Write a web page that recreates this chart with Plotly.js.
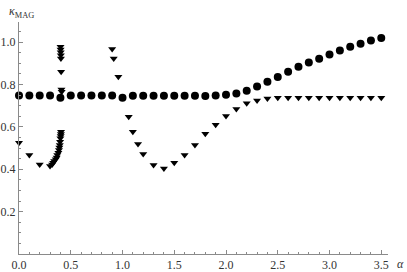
<!DOCTYPE html>
<html>
<head>
<meta charset="utf-8">
<script src="https://cdn.plot.ly/plotly-3.0.1.min.js"></script>
<style>
  html, body { margin: 0; padding: 0; background: #fff; }
  #chart { width: 407px; height: 272px; }
</style>
</head>
<body>
<div id="chart"></div>
<script>
// circles: alpha step 0.1
const alphaCircle = [0.0, 0.1, 0.2, 0.3, 0.4, 0.5, 0.6, 0.7, 0.8, 0.9,
  1.0, 1.1, 1.2, 1.3, 1.4, 1.5, 1.6, 1.7, 1.8, 1.9,
  2.0, 2.1, 2.2, 2.3, 2.4, 2.5, 2.6, 2.7, 2.8, 2.9,
  3.0, 3.1, 3.2, 3.3, 3.4, 3.5]
const kappaCircle = [0.748, 0.748, 0.748, 0.748, 0.737, 0.748, 0.748, 0.748, 0.748, 0.748,
  0.737, 0.747, 0.747, 0.747, 0.747, 0.747, 0.747, 0.747, 0.746, 0.748,
  0.752, 0.757, 0.770, 0.790, 0.813, 0.835, 0.860, 0.884, 0.904, 0.921,
  0.942, 0.961, 0.978, 0.992, 1.008, 1.020]

// triangles
const alphaTri = [0.0, 0.1, 0.2,
  0.30, 0.32, 0.33, 0.34, 0.355, 0.364, 0.37, 0.38, 0.386, 0.39, 0.394, 0.397, 0.400, 0.403, 0.405, 0.406,
  0.401, 0.402, 0.403, 0.404, 0.405, 0.407, 0.410, 0.412,
  0.90, 0.915, 0.96, 1.06, 1.10, 1.15, 1.20, 1.30, 1.40, 1.50, 1.60, 1.70, 1.80,
  1.90, 2.00, 2.10, 2.20, 2.30, 2.40, 2.5, 2.6, 2.7, 2.8, 2.9, 3.0, 3.1, 3.2, 3.3, 3.4, 3.5]
const kappaTri = [0.525, 0.467, 0.423,
  0.415, 0.423, 0.431, 0.439, 0.447, 0.456, 0.467, 0.478, 0.491, 0.503, 0.514, 0.530, 0.546, 0.557, 0.566, 0.577,
  0.978, 0.965, 0.952, 0.938, 0.923, 0.860, 0.777, 0.766,
  0.967, 0.923, 0.836, 0.648, 0.577, 0.519, 0.472, 0.420, 0.404, 0.431, 0.467, 0.514, 0.567,
  0.610, 0.651, 0.684, 0.711, 0.725, 0.734, 0.738, 0.738, 0.738, 0.738, 0.738, 0.738, 0.738, 0.738, 0.738, 0.738, 0.738]

const xTicks = [0, 0.5, 1, 1.5, 2, 2.5, 3, 3.5]
const yTicks = [0.2, 0.4, 0.6, 0.8, 1.0]

const axisColor = '#8a8a8a'
const labelFont = { family: 'Liberation Serif', size: 12, color: '#333' }

Plotly.newPlot(
  document.getElementById('chart'),
  [
    {
      x: alphaCircle, y: kappaCircle,
      mode: 'markers', type: 'scatter', cliponaxis: false,
      marker: { symbol: 'circle', size: 8, color: '#000' }
    },
    {
      x: alphaTri, y: kappaTri,
      mode: 'markers', type: 'scatter', cliponaxis: false,
      marker: { symbol: 'triangle-down', size: 7, color: '#000' }
    }
  ],
  {
    width: 407, height: 272,
    margin: { l: 19, r: 19, t: 22, b: 18 },
    paper_bgcolor: '#fff', plot_bgcolor: '#fff',
    showlegend: false,
    font: labelFont,
    xaxis: {
      range: [0, 3.565],
      tickvals: xTicks, tickformat: '.1f',
      ticks: 'inside', ticklen: 4, tickcolor: axisColor, tickwidth: 1,
      minor: { dtick: 0.1, ticks: 'inside', ticklen: 2, tickcolor: axisColor },
      showline: true, linecolor: axisColor, linewidth: 1,
      showgrid: false, zeroline: false,
      tickfont: labelFont
    },
    yaxis: {
      range: [0, 1.095],
      tickvals: yTicks, tickformat: '.1f',
      ticks: 'inside', ticklen: 4, tickcolor: axisColor, tickwidth: 1,
      minor: { dtick: 0.05, ticks: 'inside', ticklen: 2, tickcolor: axisColor },
      showline: true, linecolor: axisColor, linewidth: 1,
      showgrid: false, zeroline: false,
      tickfont: labelFont
    },
    annotations: [
      {
        text: '<i>κ</i><sub>MAG</sub>', xref: 'paper', yref: 'paper',
        x: 0, y: 1, xshift: -12, yshift: 10, xanchor: 'left', yanchor: 'middle',
        showarrow: false, font: labelFont
      },
      {
        text: '<i>α</i>', xref: 'paper', yref: 'paper',
        x: 1, y: 0, xshift: 12, yshift: -10, xanchor: 'center', yanchor: 'middle',
        showarrow: false, font: labelFont
      }
    ]
  },
  { displayModeBar: false, staticPlot: true }
)
</script>
</body>
</html>
